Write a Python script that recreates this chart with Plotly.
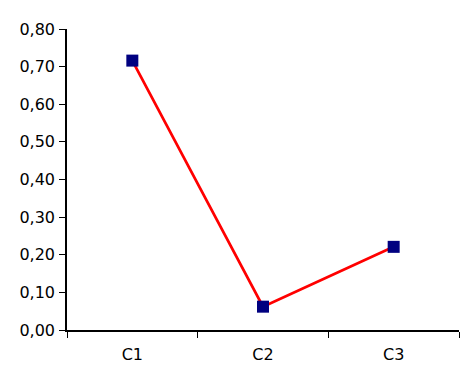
import plotly.graph_objects as go

categories = ["C1", "C2", "C3"]
values = [0.716, 0.062, 0.221]
y_ticks = [0.0, 0.1, 0.2, 0.3, 0.4, 0.5, 0.6, 0.7, 0.8]

fig = go.Figure()
fig.add_trace(go.Scatter(
    x=categories, y=values, mode="lines+markers",
    line=dict(color="#FF0000", width=2.7),
    marker=dict(symbol="square", size=12, color="#000080"),
    showlegend=False,
))

fig.update_layout(
    width=474, height=386,
    margin=dict(l=67, r=15, t=29, b=56),
    paper_bgcolor="white", plot_bgcolor="white",
    separators=",.",
    font=dict(family="DejaVu Sans, Liberation Sans, Arial, sans-serif", size=16, color="black"),
)
fig.update_xaxes(
    type="category", range=[-0.5, 2.5],
    showline=True, linecolor="black", linewidth=1.5,
    ticks="outside", tickson="boundaries", ticklen=6, tickcolor="black", tickwidth=1,
    showgrid=False, zeroline=False, ticklabelstandoff=9,
)
fig.update_yaxes(
    range=[0, 0.8], tickvals=y_ticks, tickformat=".2f",
    showline=True, linecolor="black", linewidth=1.5,
    ticks="outside", ticklen=6, tickcolor="black", tickwidth=1,
    showgrid=False, zeroline=False, ticklabelstandoff=1,
)

fig.write_html("out.html")
